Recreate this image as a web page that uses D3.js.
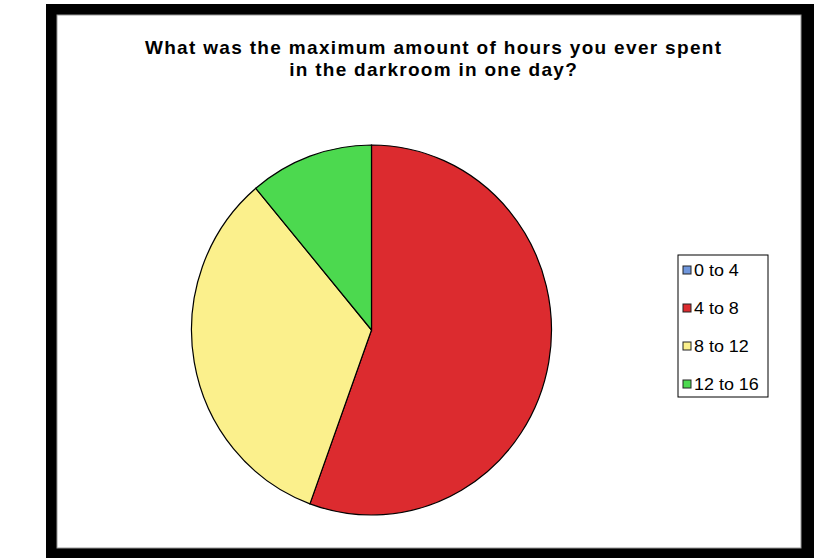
<!DOCTYPE html>
<html>
<head>
<meta charset="utf-8">
<script src="https://cdn.jsdelivr.net/npm/d3@7"></script>
<style>
  html, body { margin: 0; padding: 0; background: #fff; }
  svg { display: block; }
</style>
</head>
<body>
<svg id="chart" width="830" height="558"></svg>
<script>
const titleLines = ["What was the maximum amount of hours you ever spent", "in the darkroom in one day?"];
const categories = ["0 to 4", "4 to 8", "8 to 12", "12 to 16"];
const values = [0, 5, 3, 1];
const colors = ["#6f96dc", "#dc2b2f", "#fbf08c", "#4cd94f"];

const svg = d3.select("#chart");
const FONT = "Liberation Sans, Arial, sans-serif";

// frame
svg.append("rect").attr("x", 46).attr("y", 4).attr("width", 768).attr("height", 560).attr("fill", "#000");
svg.append("rect").attr("x", 57).attr("y", 15).attr("width", 744).attr("height", 533).attr("fill", "#fff")
  .attr("stroke", "#999").attr("stroke-width", 1);

// title (letter-spaced like the original)
const stretch = 1.13;
svg.append("g").selectAll("text").data(titleLines).join("text")
  .attr("x", 433).attr("y", (d, i) => 54 + i * 22)
  .attr("text-anchor", "middle")
  .attr("font-family", FONT)
  .attr("font-weight", "bold").attr("font-size", 19)
  .attr("fill", "#000")
  .text(d => d)
  .each(function () {
    const len = this.getComputedTextLength();
    d3.select(this).attr("textLength", len * stretch).attr("lengthAdjust", "spacing");
  });

// pie
const cx = 371.5, cy = 330, r = 180, sy = 185 / 180;
const pie = d3.pie().sort(null).value(d => d)(values);
const arc = d3.arc().innerRadius(0).outerRadius(r);
const color = d3.scaleOrdinal().domain(categories).range(colors);

svg.append("g").attr("transform", `translate(${cx},${cy}) scale(1,${sy})`)
  .selectAll("path").data(pie).join("path")
  .attr("d", arc)
  .attr("fill", (d, i) => color(categories[i]))
  .attr("stroke", "#000").attr("stroke-width", 1.2)
  .attr("vector-effect", "non-scaling-stroke");

// legend
const lx = 678, ly = 255, lw = 90, lh = 142;
const lg = svg.append("g");
lg.append("rect").attr("x", lx).attr("y", ly).attr("width", lw).attr("height", lh)
  .attr("fill", "#fff").attr("stroke", "#000").attr("stroke-width", 1);
const items = lg.selectAll("g.item").data(categories).join("g").attr("class", "item")
  .attr("transform", (d, i) => `translate(${lx + 5},${ly + 15 + i * 38})`);
items.append("rect").attr("x", 0).attr("y", -4).attr("width", 8).attr("height", 8)
  .attr("fill", d => color(d)).attr("stroke", "#222").attr("stroke-width", 1);
items.append("text").attr("x", 11).attr("y", 6)
  .attr("font-family", FONT).attr("font-size", 16)
  .attr("fill", "#000").text(d => d)
  .each(function () {
    const len = this.getComputedTextLength();
    d3.select(this).attr("textLength", len * 1.12).attr("lengthAdjust", "spacingAndGlyphs");
  });
</script>
</body>
</html>
